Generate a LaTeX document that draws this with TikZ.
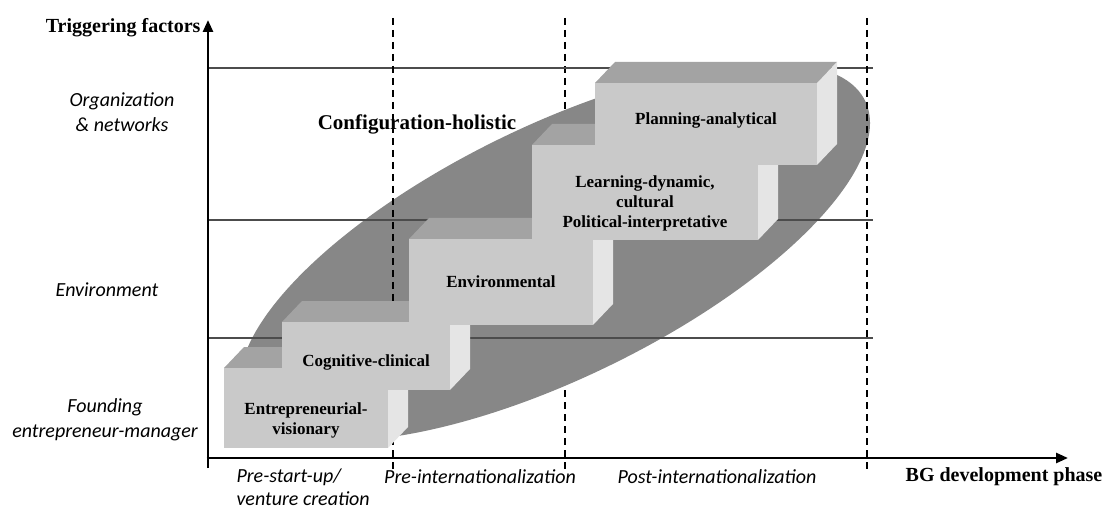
\documentclass[tikz,border=0pt]{standalone}
\usepackage{fontspec}
\setmainfont{Liberation Serif}
\newfontfamily\calibriLike{Carlito}
\usetikzlibrary{arrows.meta}

\definecolor{ellipseGray}{gray}{0.53}
\definecolor{topGray}{gray}{0.64}
\definecolor{frontGray}{gray}{0.79}
\definecolor{sideGray}{gray}{0.9}
\definecolor{levelGray}{gray}{0.3}

\def \depthX {20pt}
\def \depthY {21pt}

\tikzset{
   axis/.style={line width=2.6pt, -{Triangle[length=12pt,width=10pt]}},
   level/.style={draw=levelGray, line width=1.8pt},
   phase/.style={line width=1.4pt, dash pattern=on 7pt off 5pt},
   axisTitle/.style={font=\fontsize{20}{24}\selectfont\bfseries},
   factor/.style={font=\fontsize{20}{25}\selectfont\calibriLike\itshape, align=center},
   phaseLabel/.style={font=\fontsize{20}{23}\selectfont\calibriLike\itshape, align=left},
   approach/.style={font=\fontsize{17}{20}\selectfont\bfseries, align=center},
   frontFace/.style={fill=frontGray, inner sep=0pt, outer sep=0pt},
}

\newcommand{\stepBlock}[7]{%
   \fill[topGray] (#2,#3) -- ++(\depthX,\depthY) -- ++(#4-#2,0) -- (#4,#3) -- cycle;
   \fill[sideGray] (#4,#3) -- ++(\depthX,\depthY) -- ++(0,#5-#3) -- (#4,#5) -- cycle;
   \node[frontFace, minimum width={#4pt-#2pt}, minimum height={#5pt-#3pt}] (#1) at ({(#2+#4)/2},{(#3+#5)/2}) {};
   \node[approach] (#1Text) at ([yshift={-1pt*(#6)}]#1.center) {#7};
}

\begin{document}
\begin{tikzpicture}[x=1pt, y=-1pt]
         \useasboundingbox (0,0) rectangle (1107,510);
         \draw[phase] (565,18) -- (565,470);
         \fill[ellipseGray, rotate around={26:(555,252)}] (555,252) ellipse [x radius=345, y radius=126];
         \foreach \y in {68,220,338}
            \draw[level] (208,\y) -- (873,\y);
         \foreach \x in {393,867}
            \draw[phase] (\x,18) -- (\x,470);
         \draw[axis] (208,468) -- (208,20);
         \draw[axis] (206.7,458) -- (1068,458);

         \stepBlock{entre}{224}{368}{388}{448}{12}{Entrepreneurial-\\visionary}
         \stepBlock{cogn}{282}{322}{450}{390}{6}{Cognitive-clinical}
         \stepBlock{envir}{409}{239}{593}{325}{0}{Environmental}
         \stepBlock{learn}{532}{145}{758}{240}{11}{Learning-dynamic,\\cultural\\Political-interpretative}
         \stepBlock{plan}{595}{83}{817}{165}{-4}{Planning-analytical}

         \node[axisTitle, anchor=east] (trig) at (204,28) {Triggering factors};
         \node[axisTitle] (bgPhase) at (1004,477) {BG development phase};
         \node[axisTitle, font=\fontsize{21}{24}\selectfont\bfseries] (config) at (417,124) {Configuration-holistic};
         \node[factor] (org) at (122,112) {Organization\\\& networks};
         \node[factor] (env) at (107,290) {Environment};
         \node[factor] (found) at (105,420) {Founding\\entrepreneur-manager};
         \node[phaseLabel, anchor=west] (preStart) at (233,487) {Pre-start-up/\\venture creation};
         \node[phaseLabel] (preInt) at (480,477) {Pre-internationalization};
         \node[phaseLabel] (postInt) at (717,477) {Post-internationalization};
      \end{tikzpicture}
\end{document}
